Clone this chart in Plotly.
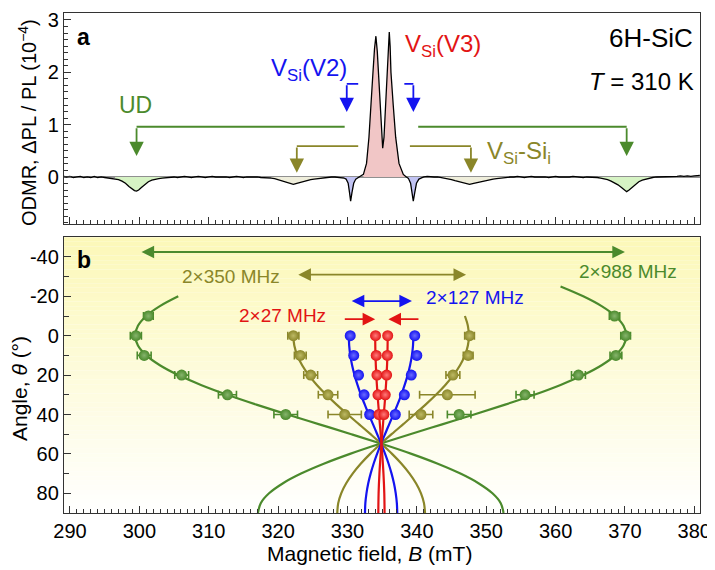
import plotly.graph_objects as go
import numpy as np

# ---------------- Panel a : ODMR spectrum (B in mT, signal in 1e-4) ----------------
spec_B = [289.1, 289.5, 290.0, 290.5, 291.0, 291.5, 292.0, 292.5, 293.0, 293.5, 294.0, 294.5, 295.0, 295.5, 296.0,
          296.5, 297.0, 297.5, 298.0, 298.5, 299.0, 299.3, 299.6, 299.9, 300.3, 300.8, 301.3, 301.8, 302.3, 302.8, 303.3, 303.8,
          304.5, 305.0, 305.5, 306.0, 306.5, 307.0, 307.5, 308.0, 308.5, 309.0, 309.5, 310.0, 310.5, 311.0, 311.5, 312.0,
          312.5, 313.0, 313.5, 314.0, 314.5, 315.0, 315.5, 316.0, 316.5, 317.0, 317.5, 318.0, 318.5,
          319.0, 319.5, 320.0, 320.5, 321.0, 321.5, 322.2, 322.7, 323.2, 323.7, 324.2, 324.7, 325.2, 325.7, 326.2, 326.7,
          327.2, 327.7, 328.2, 328.7, 329.2, 329.5,
          329.8, 330.1, 330.3, 330.46, 330.65, 330.9, 331.2, 331.6, 331.9,
          332.3, 332.75, 333.1, 333.35, 333.68, 333.9, 334.1, 334.3, 334.45, 334.69, 334.94, 335.08,
          335.27, 335.5, 335.73, 335.9, 336.03, 336.15, 336.27, 336.6, 336.95, 337.43, 338.05, 338.4,
          338.8, 339.1, 339.3, 339.49, 339.7, 339.95, 340.3, 340.7,
          341.0, 341.5, 342.0, 342.5, 343.0, 343.5, 344.0, 344.5, 345.0, 345.5, 346.0, 346.5, 347.0, 347.6, 348.2, 348.8,
          349.4, 350.0, 350.5, 351.0, 351.5, 352.0, 352.5, 353.0, 353.5,
          354.0, 354.5, 355.0, 355.5, 356.0, 356.5, 357.0, 357.5, 358.0, 358.5, 359.0, 359.5, 360.0, 360.5, 361.0, 361.5,
          362.0, 362.5, 363.0, 363.5, 364.0, 364.5,
          365.0, 365.5, 366.0, 366.5, 367.0, 367.5, 368.0, 368.5, 369.0, 369.5, 370.0, 370.25, 370.6, 371.0, 371.5, 372.0,
          372.5, 373.0, 373.5, 374.0, 374.5,
          375.0, 375.5, 376.0, 376.5, 377.0, 377.5, 378.0, 378.5, 379.0, 379.5, 380.0, 380.5, 380.8]
spec_S = [0.01, 0.0, 0.01, -0.01, 0.0, 0.01, -0.01, 0.0, -0.01, 0.01, -0.01, 0.0, -0.01, -0.02, -0.02,
          -0.03, -0.05, -0.08, -0.12, -0.18, -0.23, -0.26, -0.27, -0.25, -0.20, -0.14, -0.09, -0.06, -0.04, -0.03, -0.02, -0.01,
          -0.01, 0.0, -0.01, 0.0, 0.01, 0.0, -0.01, 0.0, 0.01, 0.0, -0.01, 0.0, 0.01, 0.0, 0.0, 0.01,
          0.0, -0.01, 0.0, 0.01, 0.0, -0.01, 0.0, 0.0, 0.01, 0.0, -0.01, -0.01, -0.02,
          -0.02, -0.03, -0.05, -0.07, -0.10, -0.12, -0.14, -0.12, -0.10, -0.08, -0.06, -0.05, -0.04, -0.03, -0.02, -0.01,
          -0.01, 0.0, 0.0, -0.01, -0.01, -0.02,
          -0.04, -0.12, -0.30, -0.46, -0.30, -0.12, -0.04, 0.0, 0.02,
          0.05, 0.26, 0.76, 1.37, 2.00, 2.45, 2.69, 2.40, 2.00, 1.37, 0.76, 0.55,
          0.76, 1.37, 2.00, 2.50, 2.77, 2.50, 2.00, 1.37, 0.76, 0.26, 0.05, 0.01,
          -0.03, -0.12, -0.30, -0.46, -0.30, -0.12, -0.04, -0.01,
          0.0, 0.01, 0.0, 0.0, 0.0, -0.01, -0.02, -0.03, -0.05, -0.07, -0.09, -0.11, -0.12, -0.14, -0.12, -0.10,
          -0.08, -0.06, -0.05, -0.04, -0.03, -0.02, -0.02, -0.01, 0.0,
          0.0, 0.01, 0.0, -0.01, 0.0, 0.01, 0.0, 0.0, 0.01, 0.0, -0.01, 0.0, 0.01, 0.0, 0.0, -0.01,
          0.0, 0.01, 0.0, 0.0, -0.01, 0.0,
          0.0, -0.01, -0.01, -0.02, -0.03, -0.05, -0.08, -0.11, -0.15, -0.20, -0.25, -0.28, -0.25, -0.20, -0.14, -0.09,
          -0.06, -0.04, -0.02, -0.01, 0.0,
          0.0, 0.01, 0.0, 0.01, 0.0, 0.01, 0.02, 0.01, 0.02, 0.01, 0.02, 0.02, 0.03]

# shaded resonance regions (B range, fill colour)
fill_lo = [296.5, 365.0, 319.0, 343.5, 329.5, 338.6, 332.2]
fill_hi = [303.8, 374.5, 326.7, 353.0, 331.6, 340.7, 338.4]
fill_col = ['#d6f3c4', '#d6f3c4', '#efeedb', '#efeedb', '#c1c3f3', '#c1c3f3', '#f1c6c6']

# ---------------- Panel b : angular dependence ----------------
th_g = [-10, 0, 10, 20, 30, 40]
th_p = [0, 10, 20, 30, 40]
green_L = [301.3, 299.5, 300.7, 306.1, 312.7, 321.1]
green_L_err = [0.7, 0.8, 1.0, 1.0, 1.3, 1.7]
green_R = [368.5, 370.1, 368.7, 363.3, 355.6, 346.1]
green_R_err = [0.75, 0.7, 0.85, 1.0, 1.3, 1.7]
olive_L = [322.2, 323.2, 324.7, 327.2, 329.6]
olive_L_err = [0.8, 0.85, 1.0, 1.4, 2.4]
olive_R = [347.6, 347.4, 345.2, 344.4, 340.6]
olive_R_err = [0.7, 0.7, 1.0, 4.0, 1.7]
blue_L = [330.4, 330.9, 331.6, 332.4, 333.2]
blue_R = [339.7, 340.0, 339.2, 338.2, 336.9]
red_L = [334.05, 334.15, 334.25, 334.4, 334.55]
red_R = [335.8, 335.75, 335.65, 335.45, 335.25]

# fitted curves
th_gA = [-20, -15, -10, -5, 0, 5, 10, 15, 20, 25, 30, 35, 40, 45, 50, 55, 60, 65, 70, 75, 80, 85, 90]
green_A = [305.61, 302.96, 301.00, 299.80, 299.40, 299.80, 301.00, 302.96, 305.61, 308.88, 312.67, 316.87, 321.34,
           325.95, 330.56, 335.03, 339.23, 343.02, 346.29, 348.94, 350.90, 352.10, 352.50]
th_gB = [-25, -20, -15, -10, -5, 0, 5, 10, 15, 20, 25, 30, 35, 40, 45, 50, 55, 60, 65, 70, 75, 80, 85, 90]
green_B = [360.72, 363.99, 366.64, 368.60, 369.80, 370.20, 369.80, 368.60, 366.64, 363.99, 360.72, 356.93, 352.73,
           348.26, 343.65, 339.04, 334.57, 330.37, 326.58, 323.31, 320.66, 318.70, 317.50, 317.10]
th_0 = [0, 5, 10, 15, 20, 25, 30, 35, 40, 45, 50, 55, 60, 65, 70, 75, 80, 85, 90]
olive_A = [322.20, 322.34, 322.77, 323.47, 324.42, 325.59, 326.94, 328.44, 330.04, 331.69, 333.33, 334.93, 336.43,
           337.79, 338.95, 339.90, 340.60, 341.03, 341.18]
th_oB = [-10, -5, 0, 5, 10, 15, 20, 25, 30, 35, 40, 45, 50, 55, 60, 65, 70, 75, 80, 85, 90]
olive_B = [346.93, 347.36, 347.50, 347.36, 346.93, 346.23, 345.28, 344.11, 342.76, 341.26, 339.66, 338.01, 336.36,
           334.77, 333.27, 331.91, 330.75, 329.80, 329.10, 328.67, 328.53]
blue_A = [330.20, 330.25, 330.41, 330.67, 331.02, 331.45, 331.94, 332.50, 333.08, 333.69, 334.29, 334.88, 335.43,
          335.93, 336.36, 336.71, 336.96, 337.12, 337.18]
blue_B = [339.50, 339.45, 339.29, 339.03, 338.68, 338.25, 337.76, 337.21, 336.62, 336.01, 335.41, 334.82, 334.27,
          333.77, 333.34, 332.99, 332.74, 332.58, 332.53]
th_r = [0, 10, 20, 30, 40, 50, 60, 70, 80, 90]
red_A = [334.00, 334.04, 334.16, 334.34, 334.56, 334.79, 335.01, 335.19, 335.31, 335.35]
red_B = [335.80, 335.76, 335.64, 335.46, 335.24, 335.01, 334.79, 334.61, 334.49, 334.45]

x_ticks = [290, 300, 310, 320, 330, 340, 350, 360, 370, 380]
x_ticktext = ['290', '300', '310', '320', '330', '340', '350', '360', '370', '380']
odmr_ticks = [0, 1, 2, 3]
theta_ticks = [-40, -20, 0, 20, 40, 60, 80]
theta_ticktext = ['-40', '-20', '0', '20', '40', '60', '80']

GREEN = '#4b8a2c'
OLIVE = '#8a8629'
BLUE = '#1414f0'
RED = '#e21414'
FONT = 'Liberation Sans, Arial, Helvetica, sans-serif'

fig = go.Figure()

# ---- panel a traces ----
B = np.array(spec_B)
S = np.array(spec_S)
for lo, hi, c in zip(fill_lo, fill_hi, fill_col):
    m = (B >= lo) & (B <= hi)
    fig.add_trace(go.Scatter(x=B[m], y=S[m], mode='lines', fill='tozeroy', fillcolor=c,
                             line=dict(width=0, color=c), xaxis='x', yaxis='y', hoverinfo='skip'))
fig.add_trace(go.Scatter(x=spec_B, y=spec_S, mode='lines', line=dict(color='black', width=1.3),
                         xaxis='x', yaxis='y'))

# ---- panel b traces ----
def curve(x, y, col):
    fig.add_trace(go.Scatter(x=x, y=y, mode='lines', line=dict(color=col, width=2.2, shape='spline'),
                             xaxis='x2', yaxis='y2'))

def pts(x, y, col, light, err=None):
    ex = dict(type='data', array=err, color=col, thickness=1.6, width=4) if err else None
    fig.add_trace(go.Scatter(x=x, y=y, mode='markers', error_x=ex,
                             marker=dict(size=11, color=col, line=dict(width=0),
                                         gradient=dict(type='radial', color=light)),
                             xaxis='x2', yaxis='y2'))

curve(green_A, th_gA, GREEN)
curve(green_B, th_gB, GREEN)
curve(olive_A, th_0, OLIVE)
curve(olive_B, th_oB, OLIVE)
curve(blue_A, th_0, BLUE)
curve(blue_B, th_0, BLUE)
curve(red_A, th_r, RED)
curve(red_B, th_r, RED)
pts(green_L, th_g, GREEN, '#86b46c', green_L_err)
pts(green_R, th_g, GREEN, '#86b46c', green_R_err)
pts(olive_L, th_p, OLIVE, '#bdb964', olive_L_err)
pts(olive_R, th_p, OLIVE, '#bdb964', olive_R_err)
pts(blue_L, th_p, BLUE, '#6a6aff')
pts(blue_R, th_p, BLUE, '#6a6aff')
pts(red_L, th_p, RED, '#ff7a7a')
pts(red_R, th_p, RED, '#ff7a7a')

# ---- shapes ----
shapes = []
n = 60
top = np.array([252, 248, 184])
for i in range(n):
    t = (i + 0.5) / n
    c = (1 - t) * np.array([255, 255, 255]) + t * top
    shapes.append(dict(type='rect', xref='x2 domain', yref='y2 domain', x0=0, x1=1, y0=i / n, y1=(i + 1) / n,
                       fillcolor='rgb(%d,%d,%d)' % tuple(c.round()), line=dict(width=0), layer='below'))
shapes.append(dict(type='line', xref='x domain', yref='y', x0=0, x1=1, y0=0, y1=0,
                   line=dict(color='#222', width=1.2), layer='below'))

annotations = []

def bracket(x_start, x_corner, y_h, y_tip, col, w=1.8):
    shapes.append(dict(type='line', xref='x', yref='y', x0=x_start, x1=x_corner, y0=y_h, y1=y_h,
                       line=dict(color=col, width=w)))
    annotations.append(dict(xref='x', yref='y', axref='x', ayref='y', x=x_corner, y=y_tip, ax=x_corner, ay=y_h,
                            text='', showarrow=True, arrowhead=2, arrowsize=1.6, arrowwidth=w, arrowcolor=col,
                            standoff=0, startstandoff=0))

bracket(329.6, 299.6, 0.96, 0.40, GREEN)
bracket(340.2, 370.25, 0.96, 0.40, GREEN)
bracket(331.55, 322.7, 0.59, 0.08, OLIVE)
bracket(339.0, 347.8, 0.59, 0.08, OLIVE)
bracket(331.55, 329.9, 1.78, 1.24, BLUE)
bracket(338.2, 339.5, 1.78, 1.24, BLUE)

def arrow_b(x_tail, x_head, th, col, both=False):
    annotations.append(dict(xref='x2', yref='y2', axref='x2', ayref='y2', x=x_head, y=th, ax=x_tail, ay=th,
                            text='', showarrow=True, arrowhead=2, arrowsize=1.4, arrowwidth=1.8, arrowcolor=col,
                            arrowside='end+start' if both else 'end', standoff=0, startstandoff=0))

arrow_b(300.1, 370.0, -42.5, GREEN, True)
arrow_b(322.7, 347.1, -31.0, OLIVE, True)
arrow_b(330.4, 339.3, -17.6, BLUE, True)
arrow_b(329.4, 334.0, -8.4, RED)
arrow_b(340.45, 335.9, -8.4, RED)

def txt(x, y, s, col, size, xref='x', yref='y', xanchor='center', **kw):
    annotations.append(dict(xref=xref, yref=yref, x=x, y=y, text=s, showarrow=False, xanchor=xanchor,
                            yanchor='middle', font=dict(family=FONT, size=size, color=col), **kw))

txt(291.9, 2.68, '<b>a</b>', 'black', 23)
txt(292.0, -38.2, '<b>b</b>', 'black', 23, 'x2', 'y2')
txt(299.4, 1.37, 'UD', GREEN, 23)
txt(324.4, 2.06, 'V<sub>Si</sub>(V2)', BLUE, 24)
txt(343.8, 2.52, 'V<sub>Si</sub>(V3)', RED, 24)
txt(354.7, 0.46, 'V<sub>Si</sub>-Si<sub>i</sub>', OLIVE, 24)
txt(380.1, 2.65, '6H-SiC', 'black', 26, xanchor='right')
txt(380.2, 1.83, '<i>T</i> = 310 K', 'black', 24, xanchor='right')
txt(313.2, -29.8, '2×350 MHz', OLIVE, 19, 'x2', 'y2')
txt(370.4, -32.7, '2×988 MHz', GREEN, 19, 'x2', 'y2')
txt(348.4, -19.6, '2×127 MHz', BLUE, 19, 'x2', 'y2')
txt(320.6, -10.4, '2×27 MHz', RED, 19, 'x2', 'y2')

# axis titles (placed explicitly)
txt(0, 0.78, 'ODMR, ΔPL / PL (10<sup>−4</sup>)', 'black', 20, 'paper', 'paper', textangle=-90, xshift=-36)
txt(0, 0.248, 'Angle, <i>θ</i> (°)', 'black', 21, 'paper', 'paper', textangle=-90, xshift=-45)
txt(0.481, 0, 'Magnetic field, <i>B</i> (mT)', 'black', 21, 'paper', 'paper', yshift=-40)

axis_common = dict(showline=True, mirror=True, linecolor='#333', linewidth=1.3, showgrid=False, zeroline=False,
                   ticks='inside', tickcolor='#333', tickwidth=1.2, ticklabeloverflow='allow',
                   tickfont=dict(family=FONT, size=20, color='black'))
xrange = [289.14, 380.82]

# the page adds an 8 px body margin, so the figure is 8 px smaller and margins are shifted
fig.update_layout(
    width=707, height=562, margin=dict(l=56, r=15, t=1, b=57),
    paper_bgcolor='white', plot_bgcolor='rgba(0,0,0,0)', showlegend=False,
    font=dict(family=FONT, color='black'),
    xaxis=dict(domain=[0, 1], anchor='y', range=xrange, tickvals=x_ticks, showticklabels=False, ticklen=7,
               minor=dict(dtick=1, tick0=290, ticklen=4, ticks='inside', tickcolor='#333'), **axis_common),
    yaxis=dict(domain=[0.5774, 1], anchor='x', range=[-0.904, 3.133], tickvals=odmr_ticks, ticklen=7,
               minor=dict(dtick=0.125, tick0=0, ticklen=4, ticks='inside', tickcolor='#333'),
               **axis_common),
    xaxis2=dict(domain=[0, 1], anchor='y2', range=xrange, tickvals=x_ticks, ticktext=x_ticktext, ticklen=7,
                minor=dict(dtick=1, tick0=290, ticklen=4, ticks='inside', tickcolor='#333'),
                **axis_common),
    yaxis2=dict(domain=[0, 0.5516], anchor='x2', range=[90, -50], tickvals=theta_ticks, ticktext=theta_ticktext,
                ticklen=7, minor=dict(dtick=10, tick0=0, ticklen=5, ticks='inside', tickcolor='#333'),
                **axis_common),
    shapes=shapes, annotations=annotations,
)

fig.write_html('out.html')
